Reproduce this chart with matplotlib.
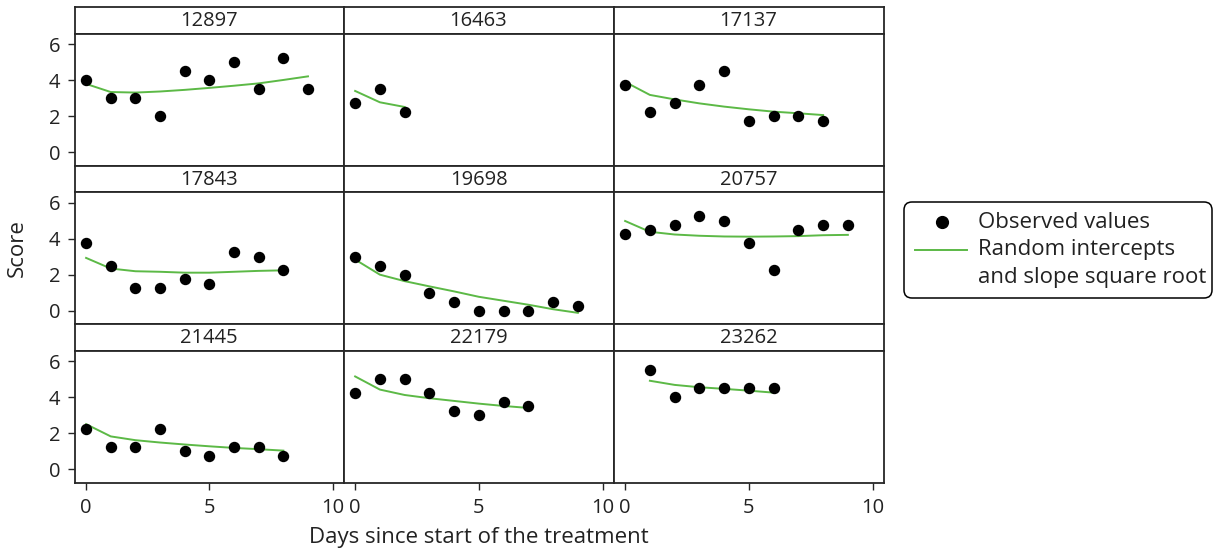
import matplotlib
matplotlib.use('Agg')
import matplotlib.pyplot as plt
from matplotlib.patches import FancyBboxPatch

plt.rcParams['font.family'] = ['Open Sans', 'DejaVu Sans']

# ---------------- data ----------------
subjects = ['12897', '16463', '17137', '17843', '19698', '20757', '21445', '22179', '23262']

days_12897 = [0, 1, 2, 3, 4, 5, 6, 7, 8, 9]
obs_12897 = [4, 3, 3, 2, 4.5, 4, 5, 3.5, 5.25, 3.5]
fit_12897 = [3.8, 3.35, 3.32, 3.38, 3.47, 3.58, 3.7, 3.83, 4.02, 4.22]

days_16463 = [0, 1, 2]
obs_16463 = [2.75, 3.5, 2.25]
fit_16463 = [3.41, 2.78, 2.52]

days_17137 = [0, 1, 2, 3, 4, 5, 6, 7, 8]
obs_17137 = [3.75, 2.25, 2.75, 3.75, 4.5, 1.75, 2, 2, 1.75]
fit_17137 = [3.91, 3.19, 2.94, 2.72, 2.54, 2.39, 2.26, 2.17, 2.07]

days_17843 = [0, 1, 2, 3, 4, 5, 6, 7, 8]
obs_17843 = [3.75, 2.5, 1.25, 1.25, 1.75, 1.5, 3.25, 3, 2.25]
fit_17843 = [2.94, 2.35, 2.2, 2.17, 2.12, 2.12, 2.17, 2.22, 2.25]

days_19698 = [0, 1, 2, 3, 4, 5, 6, 7, 8, 9]
obs_19698 = [3, 2.5, 2, 1, 0.5, 0, 0, 0, 0.5, 0.25]
fit_19698 = [2.85, 2.01, 1.65, 1.36, 1.08, 0.78, 0.56, 0.34, 0.09, -0.11]

days_20757 = [0, 1, 2, 3, 4, 5, 6, 7, 8, 9]
obs_20757 = [4.25, 4.5, 4.75, 5.25, 5, 3.75, 2.25, 4.5, 4.75, 4.75]
fit_20757 = [4.99, 4.39, 4.24, 4.17, 4.13, 4.12, 4.13, 4.15, 4.2, 4.22]

days_21445 = [0, 1, 2, 3, 4, 5, 6, 7, 8]
obs_21445 = [2.25, 1.25, 1.25, 2.25, 1, 0.75, 1.25, 1.25, 0.75]
fit_21445 = [2.51, 1.83, 1.62, 1.49, 1.38, 1.28, 1.19, 1.12, 1.04]

days_22179 = [0, 1, 2, 3, 4, 5, 6, 7]
obs_22179 = [4.25, 5, 5, 4.25, 3.25, 3, 3.75, 3.5]
fit_22179 = [5.16, 4.43, 4.13, 3.95, 3.8, 3.65, 3.52, 3.41]

days_23262 = [1, 2, 3, 4, 5, 6]
obs_23262 = [5.5, 4, 4.5, 4.5, 4.5, 4.5]
fit_23262 = [4.92, 4.69, 4.56, 4.47, 4.37, 4.26]

panel_days = [days_12897, days_16463, days_17137, days_17843, days_19698,
              days_20757, days_21445, days_22179, days_23262]
panel_obs = [obs_12897, obs_16463, obs_17137, obs_17843, obs_19698,
             obs_20757, obs_21445, obs_22179, obs_23262]
panel_fit = [fit_12897, fit_16463, fit_17137, fit_17843, fit_19698,
             fit_20757, fit_21445, fit_22179, fit_23262]

y_ticks = [0, 2, 4, 6]
x_ticks = [0, 5, 10]
x_label = 'Days since start of the treatment'
y_label = 'Score'
legend_obs = 'Observed values'
legend_fit_1 = 'Random intercepts'
legend_fit_2 = 'and slope square root'

# ---------------- layout ----------------
W, H = 1217, 549
fig = plt.figure(figsize=(W / 100, H / 100), dpi=100)

FRAME = '#262626'
TXT = '#222222'
GREEN = '#5cb946'
LW = 1.3
FS_NUM = 14.5
FS_TXT = 16


def px_axes(l, t, r, b, **kw):
    return fig.add_axes([l / W, 1 - b / H, (r - l) / W, (b - t) / H], **kw)


cols = [(74.5, 343.5), (343.5, 613.5), (613.5, 883.5)]
strip_h = 26.5
panel_h = 132.0
row_tops = [7.0, 7.0 + strip_h + panel_h, 7.0 + 2 * (strip_h + panel_h)]

for i, sid in enumerate(subjects):
    r, c = divmod(i, 3)
    l, rr = cols[c]
    st = row_tops[r]
    sb = st + strip_h
    pb = sb + panel_h

    # strip
    sax = px_axes(l, st, rr, sb)
    sax.set_xticks([])
    sax.set_yticks([])
    for sp in sax.spines.values():
        sp.set_color(FRAME)
        sp.set_linewidth(LW)
    sax.text(0.5, 0.47, sid, ha='center', va='center', fontsize=FS_NUM,
             color=TXT, transform=sax.transAxes)

    ax = px_axes(l, sb, rr, pb)
    ax.plot(panel_days[i], panel_fit[i], color=GREEN, lw=1.4, zorder=2)
    ax.plot(panel_days[i], panel_obs[i], 'o', color='black', ms=7.2, zorder=3)
    ax.set_xlim(-0.47, 10.44)
    ax.set_ylim(-0.73, 6.6)
    for sp in ax.spines.values():
        sp.set_color(FRAME)
        sp.set_linewidth(LW)
    ax.tick_params(direction='out', length=5, width=1, color=FRAME,
                   labelsize=FS_NUM, labelcolor=TXT)
    ax.tick_params(axis='y', pad=5)
    ax.tick_params(axis='x', pad=6)
    if c == 0:
        ax.set_yticks(y_ticks)
    else:
        ax.set_yticks([])
    if r == 2:
        ax.set_xticks(x_ticks)
    else:
        ax.set_xticks([])

# axis titles
fig.text(479 / W, 1 - 537 / H, x_label, ha='center', va='center',
         fontsize=FS_TXT, color=TXT)
fig.text(17 / W, 1 - 248 / H, y_label, ha='center', va='center',
         rotation=90, fontsize=FS_TXT, color=TXT)

# legend (drawn in pixel coordinates)
lax = fig.add_axes([0, 0, 1, 1], zorder=5)
lax.set_xlim(0, W)
lax.set_ylim(H, 0)
lax.axis('off')
lax.patch.set_alpha(0)
box = FancyBboxPatch((904, 202), 308, 96,
                     boxstyle='round,pad=0,rounding_size=8',
                     fc='white', ec='black', lw=1.1)
lax.add_patch(box)
lax.plot([941.5], [222], 'o', color='black', ms=8.5)
lax.plot([915, 967], [250, 250], color=GREEN, lw=1.4)
lax.text(978, 223, legend_obs, ha='left', va='center', fontsize=FS_TXT, color=TXT)
lax.text(978, 250, legend_fit_1, ha='left', va='center', fontsize=FS_TXT, color=TXT)
lax.text(978, 277, legend_fit_2, ha='left', va='center', fontsize=FS_TXT, color=TXT)

fig.savefig('out.png', dpi=100)
